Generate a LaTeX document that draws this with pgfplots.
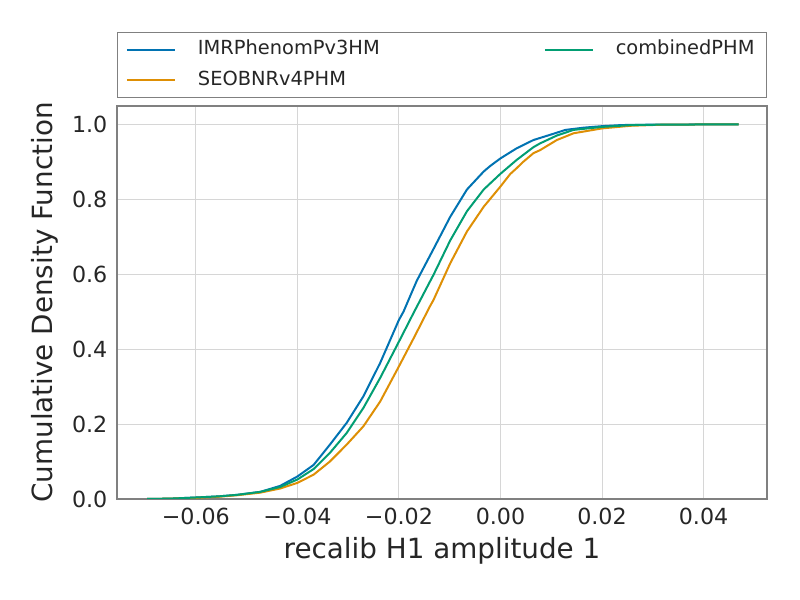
\documentclass[border=0pt]{standalone}
\usepackage{fontspec}
\setmainfont{DejaVu Sans}
\usepackage{pgfplots}
\pgfplotsset{compat=1.18}
\definecolor{cbblue}{HTML}{0173B2}
\definecolor{cborange}{HTML}{DE8F05}
\definecolor{cbgreen}{HTML}{029E73}
\definecolor{txt}{HTML}{262626}
\definecolor{framec}{HTML}{808080}
\definecolor{gridc}{HTML}{D6D6D6}
\begin{document}
\begin{tikzpicture}
\path[use as bounding box] (-58.5pt,-50.5pt) rectangle (341.5pt,249.5pt);
\begin{axis}[
  scale only axis, width=325pt, height=196.5pt,
  xmin=-0.07553, xmax=0.05249, ymin=0, ymax=1.0488,
  scaled x ticks=false, scaled y ticks=false,
  xtick={-0.06,-0.04,-0.02,0,0.02,0.04},
  xticklabels={−0.06,−0.04,−0.02,0.00,0.02,0.04},
  ytick={0,0.2,0.4,0.6,0.8,1.0},
  yticklabels={0.0,0.2,0.4,0.6,0.8,1.0},
  tick label style={font=\fontsize{11.1}{13}\selectfont, text=txt},
  yticklabel style={xshift=-1.3pt},
  xticklabel style={yshift=-1pt},
  grid=major, major grid style={gridc, line width=0.5pt},
  axis line style={framec, line width=0.7pt},
  major tick length=0pt,
  xlabel={recalib H1 amplitude 1},
  ylabel={Cumulative Density Function},
  every axis x label/.style={at={(axis description cs:0.5,-0.1323)}, anchor=center, font=\fontsize{13.9}{16}\selectfont, text=txt},
  every axis y label/.style={at={(axis description cs:-0.1108,0.5)}, rotate=90, anchor=center, font=\fontsize{13.9}{16}\selectfont, text=txt},
  legend columns=2,
  transpose legend,
  legend cell align=left,
  legend image code/.code={\draw[#1] (0pt,0pt) -- (24pt,0pt);},
  legend style={at={(axis description cs:0,1)}, anchor=south west, yshift=4pt,
    draw=framec, line width=0.6pt, text=txt, font=\fontsize{9.7}{11}\selectfont,
    inner xsep=4.2pt, inner ysep=2pt, row sep=2pt,
    nodes={inner sep=2pt, text height=7.2pt, text depth=2pt},
    /tikz/every odd column/.append style={column sep=9pt},
    /tikz/every even column/.append style={column sep=80pt}},
]
\addplot[cbblue, line width=1pt] coordinates {
(-0.0696,0.000) (-0.065,0.001) (-0.060,0.004) (-0.0555,0.007) (-0.0519,0.011)
(-0.0473,0.019) (-0.0434,0.035) (-0.0400,0.060) (-0.0368,0.091) (-0.0336,0.145)
(-0.0303,0.203) (-0.0270,0.274) (-0.0237,0.363) (-0.0200,0.478) (-0.0191,0.500)
(-0.0165,0.582) (-0.0132,0.667) (-0.0099,0.753) (-0.0066,0.826) (-0.0033,0.874)
(-0.0020,0.889) (0.0000,0.909) (0.0032,0.936) (0.0065,0.958) (0.0098,0.972)
(0.0128,0.985) (0.0164,0.991) (0.0200,0.995) (0.0240,0.998) (0.0300,0.999)
(0.0469,1.000)};
\addlegendentry{IMRPhenomPv3HM}
\addplot[cborange, line width=1pt] coordinates {
(-0.0696,0.000) (-0.065,0.001) (-0.060,0.003) (-0.0555,0.006) (-0.0519,0.010)
(-0.0473,0.017) (-0.0434,0.028) (-0.0400,0.043) (-0.0368,0.065) (-0.0336,0.100)
(-0.0303,0.145) (-0.0270,0.194) (-0.0237,0.260) (-0.0200,0.354) (-0.0171,0.429)
(-0.0139,0.514) (-0.0132,0.531) (-0.0099,0.629) (-0.0066,0.714) (-0.0033,0.780)
(0.0000,0.834) (0.0019,0.867) (0.0032,0.883) (0.0045,0.900) (0.0065,0.923)
(0.0078,0.931) (0.0111,0.958) (0.0144,0.976) (0.0200,0.989) (0.0256,0.996)
(0.0320,0.999) (0.0469,1.000)};
\addlegendentry{SEOBNRv4PHM}
\addplot[cbgreen, line width=1pt] coordinates {
(-0.0696,0.000) (-0.065,0.001) (-0.060,0.004) (-0.0555,0.007) (-0.0519,0.011)
(-0.0473,0.019) (-0.0434,0.032) (-0.0400,0.052) (-0.0368,0.080) (-0.0336,0.123)
(-0.0303,0.176) (-0.0270,0.243) (-0.0237,0.323) (-0.0200,0.420) (-0.0171,0.497)
(-0.0139,0.580) (-0.0132,0.598) (-0.0099,0.690) (-0.0066,0.768) (-0.0033,0.826)
(0.0000,0.868) (0.0032,0.905) (0.0065,0.939) (0.0078,0.949) (0.0111,0.970)
(0.0144,0.985) (0.0200,0.993) (0.0260,0.998) (0.0320,0.999) (0.0469,1.000)};
\addlegendentry{combinedPHM}
\end{axis}
\end{tikzpicture}
\end{document}
